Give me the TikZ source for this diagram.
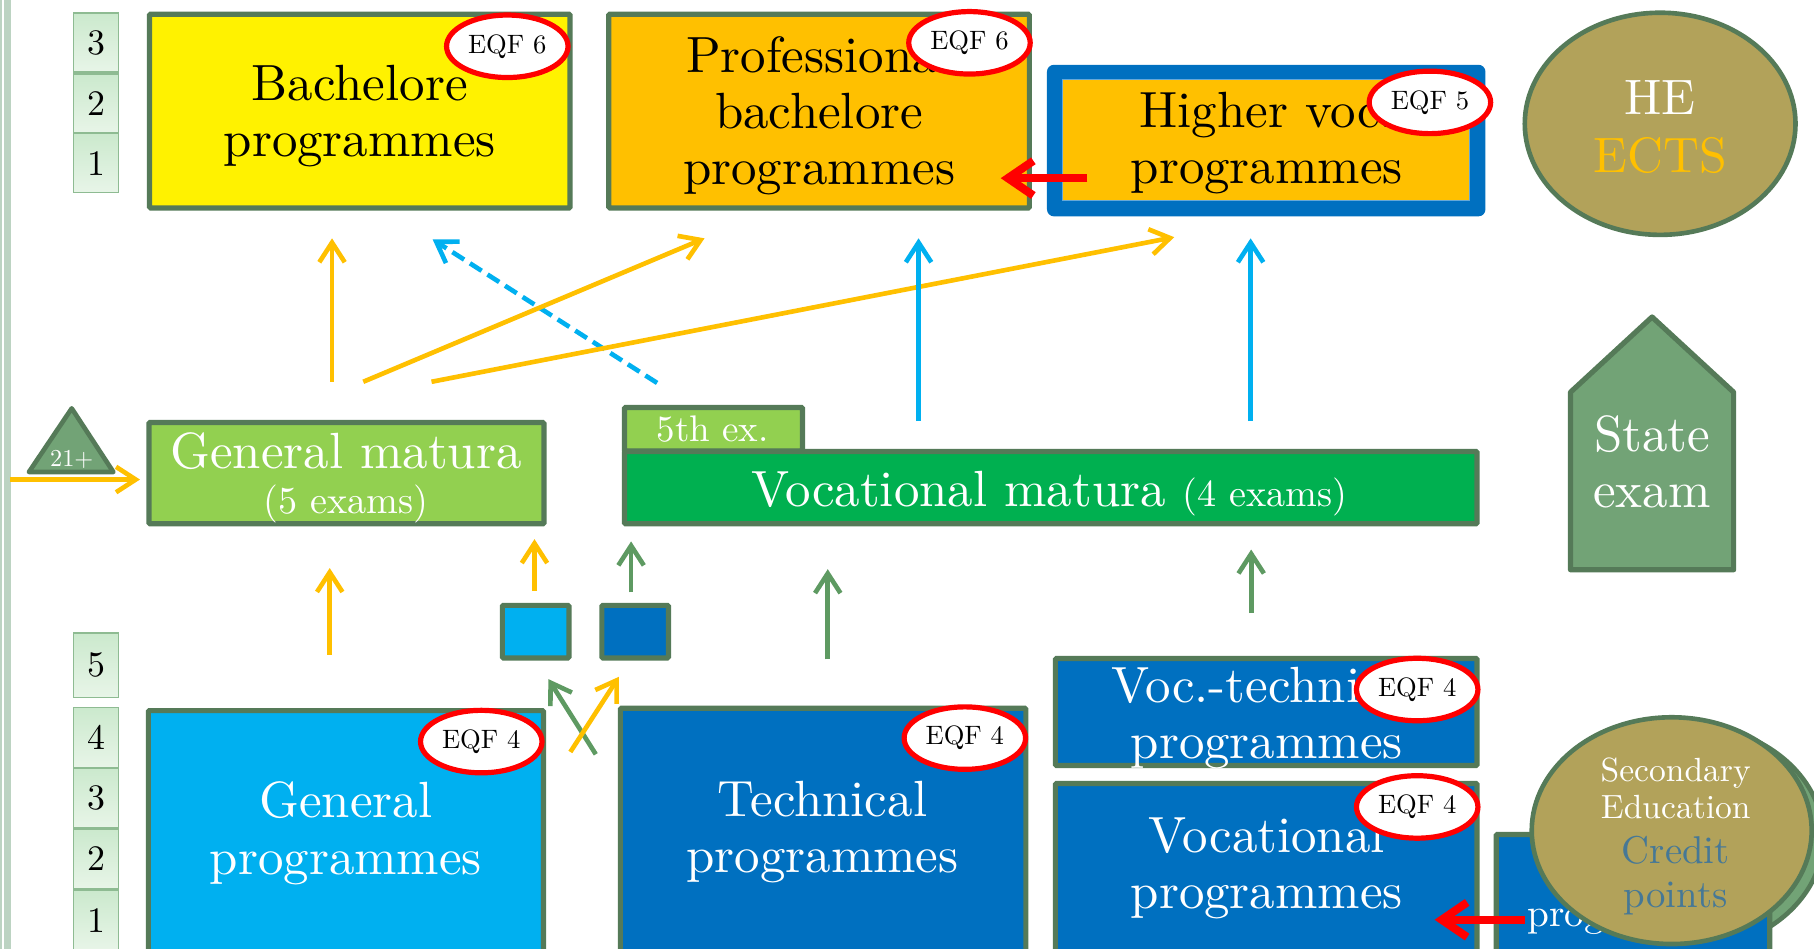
\documentclass[tikz,border=0pt]{standalone}
\usepackage{fontspec}
\setmainfont{lmroman10-regular.otf}
\usetikzlibrary{arrows.meta,shapes.geometric}

\definecolor{frame}{HTML}{557A58}
\definecolor{gold}{HTML}{FFC000}
\definecolor{lime}{HTML}{92D050}
\definecolor{grass}{HTML}{00B050}
\definecolor{sky}{HTML}{00B0F0}
\definecolor{navy}{HTML}{0070C0}
\definecolor{olive}{HTML}{B2A25A}
\definecolor{sage}{HTML}{72A376}
\definecolor{arrgreen}{HTML}{5E9A62}
\definecolor{creditblue}{HTML}{467896}
\definecolor{levrim}{HTML}{8EBB92}
\definecolor{levtop}{HTML}{CBE9CD}
\definecolor{levbot}{HTML}{E8F5E8}
\definecolor{sidebar}{HTML}{BCD3C2}
\definecolor{eqfred}{HTML}{FF0000}

\begin{document}
\begin{tikzpicture}[x=1pt,y=-1pt,
  box/.style={draw=frame, line width=4.5pt, inner sep=0pt, outer sep=0pt, rounded corners=1pt},
  eqf/.style={ellipse, draw=eqfred, fill=white, line width=4.5pt, inner sep=0pt,
              minimum width=105pt, minimum height=54pt, font=\fontsize{23}{26}\selectfont},
  big/.style={font=\fontsize{44}{48.5}\selectfont, align=center, inner sep=0pt, anchor=base},
  level/.style={draw=levrim, line width=1.5pt, top color=levtop, bottom color=levbot,
                minimum width=39pt, inner sep=0pt, font=\fontsize{31}{31}\selectfont},
  arr/.style={line width=4pt, -{Straight Barb[length=17pt,width=22pt]}},
  redarr/.style={draw=eqfred, line width=7pt, -{Straight Barb[length=22pt,width=30pt]}}
]
\fill[white] (0,0) rectangle (1568,820);
\useasboundingbox (0,0) rectangle (1568,820);
\clip (0,0) rectangle (1568,820);

% side rule
\fill[sidebar] (0,0) rectangle (1.3,820);
\fill[sidebar] (3.5,0) rectangle (9.5,820);

% year levels, upper stage
\node[level, minimum height=51pt] (u3) at (83,37) {3};
\node[level, minimum height=51pt] (u2) at (83,89.5) {2};
\node[level, minimum height=51pt] (u1) at (83,141) {1};
% year levels, lower stage
\node[level, minimum height=56pt] (l5) at (83,575) {5};
\node[level, minimum height=52pt] (l4) at (83,637.5) {4};
\node[level, minimum height=52pt] (l3) at (83,690) {3};
\node[level, minimum height=52pt] (l2) at (83,742.5) {2};
\node[level, minimum height=52pt] (l1) at (83,795.5) {1};

% higher education (multi-line labels sit on their last baseline)
\node[box, fill=yellow, minimum width=363.5pt, minimum height=167.5pt] (bach) at (311,96) {};
\node[big] (bachtxt) at (311,135.5) {Bachelore\\programmes};
\node[eqf] (eqfbach) at (438.5,40) {EQF 6};

\node[box, fill=gold, minimum width=363.5pt, minimum height=167.5pt] (prof) at (708,96) {};
\node[big] (proftxt) at (708,159.5) {Professional\\bachelore\\programmes};
\node[eqf] (eqfprof) at (838,37) {EQF 6};

\node[fill=navy, rounded corners=6pt, inner sep=0pt, minimum width=379pt, minimum height=131pt] (hvframe) at (1094.5,121.5) {};
\node[fill=gold, draw=navy!60, line width=0.8pt, inner sep=0pt, minimum width=352pt, minimum height=104pt] (hv) at (1094,121) {};
\node[big] (hvtxt) at (1095,159) {Higher voc.\\programmes};
\node[eqf] (eqfhv) at (1236,88.5) {EQF 5};

\coordinate (r1s) at (940,154);
\coordinate (r1e) at (865,154);
\draw[redarr] (r1s) -- (r1e);

\node[ellipse, fill=olive, draw=frame, line width=4pt, inner sep=0pt,
      minimum width=234pt, minimum height=192pt] (he) at (1435,107) {};
\node[big, font=\fontsize{43}{50}\selectfont, text=white] (hetxt) at (1435,149) {HE\\\textcolor{gold}{ECTS}};

% routes from the matura level upward
\coordinate (a1s) at (287,330);  \coordinate (a1e) at (287,206);
\coordinate (a2s) at (314,330);  \coordinate (a2e) at (609,206);
\coordinate (a3s) at (373,330);  \coordinate (a3e) at (1015,205);
\coordinate (a4s) at (568,331);  \coordinate (a4e) at (374,207);
\coordinate (a5s) at (794,364);  \coordinate (a5e) at (794,206);
\coordinate (a6s) at (1081,364); \coordinate (a6e) at (1081,206);
\draw[arr, sky, dash pattern=on 12pt off 6pt] (a4s) -- (a4e);
\draw[arr, gold] (a1s) -- (a1e);
\draw[arr, gold] (a2s) -- (a2e);
\draw[arr, gold] (a3s) -- (a3e);
\draw[arr, sky] (a5s) -- (a5e);
\draw[arr, sky] (a6s) -- (a6e);

% matura level
\draw[frame, fill=sage, line width=4pt, line join=round] (25,408) -- (62,353) -- (98,408) -- cycle;
\node[anchor=base, inner sep=0pt, text=white, font=\fontsize{21}{21}\selectfont] (adult) at (62,403) {21+};
\coordinate (b0s) at (9,414.5);
\coordinate (b0e) at (121,414.5);
\node[box, fill=lime, minimum width=341.5pt, minimum height=87.5pt] (genmat) at (299.5,409) {};
\draw[arr, gold] (b0s) -- (b0e);
\node[big, text=white] (genmattxt) at (299,405) {General matura};
\node[anchor=base, inner sep=0pt, text=white, font=\fontsize{33}{36}\selectfont] (genmatsub) at (299,444) {(5 exams)};

\node[box, fill=lime, minimum width=154pt, minimum height=37.5pt] (tab) at (616.75,371) {};
\node[anchor=base, inner sep=0pt, text=white, font=\fontsize{32}{34}\selectfont] (tabtxt) at (616,381.5) {5th ex.};
\node[box, fill=grass, minimum width=737pt, minimum height=62.5pt] (vocmat) at (908.25,421.5) {};
\node[big, text=white] (vocmattxt) at (907,438) {Vocational matura {\fontsize{33}{36}\selectfont(4 exams)}};

\draw[frame, fill=sage, line width=4.5pt, line join=round]
  (1357.5,492.5) -- (1357.5,339) -- (1428,274) -- (1498.5,339) -- (1498.5,492.5) -- cycle;
\node[big, text=white] (state) at (1428,439) {State\\exam};

% bridging exams
\node[box, fill=sky, minimum width=57.5pt, minimum height=45.5pt] (sqa) at (463,546) {};
\node[box, fill=navy, minimum width=57.5pt, minimum height=45.5pt] (sqb) at (549,546) {};

% secondary programmes
\node[box, fill=sky, minimum width=341.5pt, minimum height=233.5pt] (genprog) at (299,731) {};
\node[big, text=white] (genprogtxt) at (299,755.5) {General\\programmes};
\node[eqf] (eqfgen) at (416,641) {EQF 4};

\node[box, fill=navy, minimum width=350.5pt, minimum height=235.5pt] (techprog) at (711.5,730) {};
\node[big, text=white] (techprogtxt) at (711,754.5) {Technical\\programmes};
\node[eqf] (eqftech) at (834,638) {EQF 4};

\node[box, fill=navy, minimum width=364.5pt, minimum height=92.5pt] (voctech) at (1094.5,615.5) {};
\node[big, text=white] (voctechtxt) at (1095,655.5) {Voc.-technical\\programmes};
\node[eqf] (eqfvt) at (1225,596) {EQF 4};

\node[box, fill=navy, minimum width=364.5pt, minimum height=170.5pt] (vocprog) at (1094.5,762.5) {};
\node[big, text=white] (vocprogtxt) at (1095,785.5) {Vocational\\programmes};
\node[eqf] (eqfvoc) at (1225,697.5) {EQF 4};

% credit points (shadow lies under the short programme box)
\node[ellipse, fill=sage, draw=frame, line width=4pt, inner sep=0pt,
      minimum width=242pt, minimum height=196pt] (credshadow) at (1455,724) {};
\node[box, fill=navy, minimum width=236.5pt, minimum height=126.5pt] (shortprog) at (1411.5,784.5) {};
\node[anchor=base west, inner sep=0pt, text=white, font=\fontsize{34}{36}\selectfont] (shortprogtxt) at (1320,801) {programmes};

% routes from programmes to matura
\coordinate (b1s) at (285,566);  \coordinate (b1e) at (285,491);
\coordinate (b2s) at (462,511);  \coordinate (b2e) at (462,466);
\coordinate (b3s) at (545.5,512); \coordinate (b3e) at (545.5,468);
\coordinate (b4s) at (715.5,570); \coordinate (b4e) at (715.5,492);
\coordinate (b5s) at (1081.5,530); \coordinate (b5e) at (1081.5,475);
\coordinate (b6s) at (515,652);  \coordinate (b6e) at (474,587);
\coordinate (b7s) at (493,650);  \coordinate (b7e) at (535,585);
\draw[arr, gold] (b1s) -- (b1e);
\draw[arr, gold] (b2s) -- (b2e);
\draw[arr, arrgreen] (b3s) -- (b3e);
\draw[arr, arrgreen] (b4s) -- (b4e);
\draw[arr, arrgreen] (b5s) -- (b5e);
\draw[arr, arrgreen] (b6s) -- (b6e);
\draw[arr, gold] (b7s) -- (b7e);

\node[ellipse, fill=olive, draw=frame, line width=4pt, inner sep=0pt,
      minimum width=242pt, minimum height=196pt] (cred) at (1445,718) {};
\node[big, text=white, font=\fontsize{29}{31.7}\selectfont] (credtop) at (1448.5,707.2) {Secondary\\Education};
\node[big, text=creditblue, font=\fontsize{33.5}{38}\selectfont] (credbot) at (1448.5,784) {Credit\\points};

\coordinate (r2s) at (1318,795);
\coordinate (r2e) at (1240,795);
\draw[redarr] (r2s) -- (r2e);
\end{tikzpicture}
\end{document}
